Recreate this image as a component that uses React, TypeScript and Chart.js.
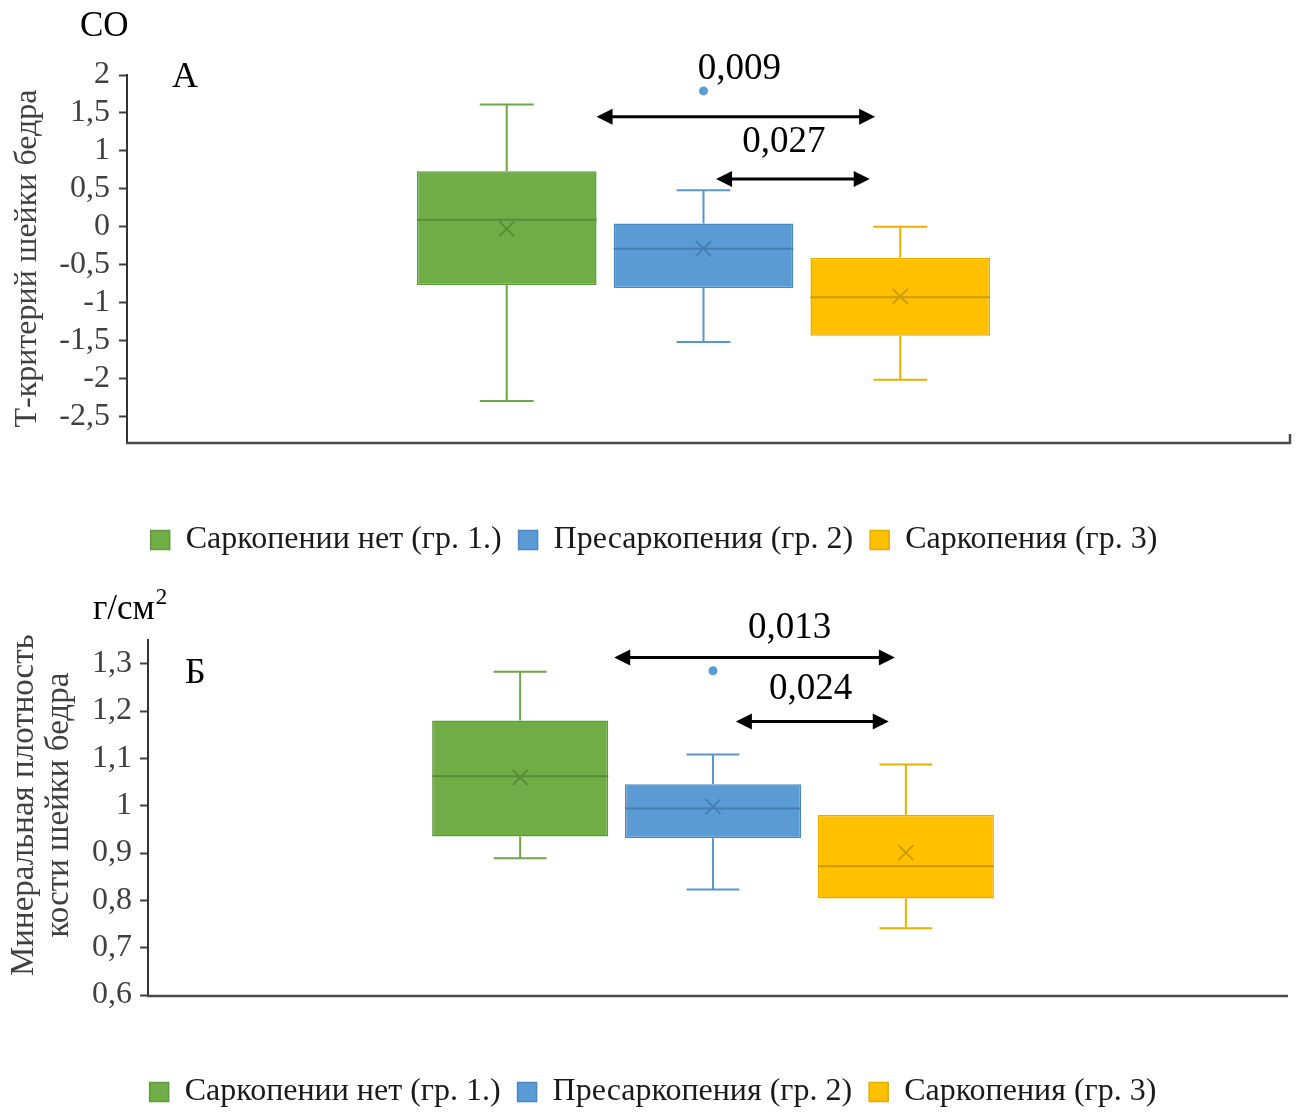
import React, { useEffect, useRef } from 'react';
import { Chart, registerables } from 'chart.js';

Chart.register(...registerables);

const FONT = "'Liberation Serif', 'Times New Roman', serif";

// Groups
const groups = ['Саркопении нет (гр. 1.)', 'Пресаркопения (гр. 2)', 'Саркопения (гр. 3)'];
const fillColors = ['#70AD47', '#5B9BD5', '#FFC000'];
const edgeColors = ['#5F9A3C', '#4B88C3', '#E3AA00'];
const whiskerColors = ['#6FA54A', '#5A96CF', '#E6B000'];
const centreColors = ['#578C39', '#467DB2', '#CC9B00'];

// Т-критерий шейки бедра
const tMin = [-2.3, -1.52, -2.02];
const tQ1 = [-0.77, -0.81, -1.44];
const tMedian = [0.09, -0.29, -0.93];
const tQ3 = [0.73, 0.04, -0.41];
const tMax = [1.61, 0.48, 0.0];
const tMean = [-0.03, -0.29, -0.92];
const tOutliers = [[], [1.79], []];
const tPValues = ['0,009', '0,027'];

// Минеральная плотность кости шейки бедра, г/см²
const bMin = [0.889, 0.823, 0.741];
const bQ1 = [0.935, 0.931, 0.804];
const bMedian = [1.062, 0.994, 0.872];
const bQ3 = [1.18, 1.045, 0.981];
const bMax = [1.283, 1.108, 1.087];
const bMean = [1.06, 0.998, 0.901];
const bOutliers = [[], [1.285], []];
const bPValues = ['0,013', '0,024'];

type Stats = {
  min: number[];
  q1: number[];
  median: number[];
  q3: number[];
  max: number[];
  mean: number[];
  outliers: number[][];
};

type Bracket = {
  from: number;
  fromShift: number;
  to: number;
  toShift: number;
  y: number;
  label: string;
  labelY: number;
  labelShift: number;
};

type PanelSpec = {
  stats: Stats;
  yMin: number;
  yMax: number;
  step: number;
  title: string | string[];
  titleFont: number;
  titleLineHeight: number;
  titlePad: number;
  axisWidth: number;
  tickPad: number;
  padTop: number;
  padRight: number;
  axisExtend: number;
  xAxisHeight: number;
  height: number;
  top: number;
  letter: string;
  letterDx: number;
  letterDy: number;
  unit: string;
  unitSup: string;
  unitDx: number;
  unitDy: number;
  endTick: boolean;
  legendShift: number;
  brackets: Bracket[];
};

const formatTick = (v: number) => String(Math.round(v * 100) / 100).replace('.', ',');

function drawArrow(ctx: CanvasRenderingContext2D, x1: number, x2: number, y: number) {
  const head = 16;
  const half = 8;
  ctx.save();
  ctx.strokeStyle = '#000';
  ctx.fillStyle = '#000';
  ctx.lineWidth = 3;
  ctx.beginPath();
  ctx.moveTo(x1 + head - 2, y);
  ctx.lineTo(x2 - head + 2, y);
  ctx.stroke();
  ctx.beginPath();
  ctx.moveTo(x1, y);
  ctx.lineTo(x1 + head, y - half);
  ctx.lineTo(x1 + head, y + half);
  ctx.closePath();
  ctx.fill();
  ctx.beginPath();
  ctx.moveTo(x2, y);
  ctx.lineTo(x2 - head, y - half);
  ctx.lineTo(x2 - head, y + half);
  ctx.closePath();
  ctx.fill();
  ctx.restore();
}

function makeBoxPlugin(spec: PanelSpec) {
  return {
    id: 'boxDecor',
    afterLayout(chart: any) {
      // nudge the legend row sideways
      if (chart.legend) {
        chart.legend.left += spec.legendShift;
        chart.legend.right += spec.legendShift;
      }
    },
    afterDatasetsDraw(chart: any) {
      const { ctx, chartArea } = chart;
      const ys = chart.scales.y;
      const s = spec.stats;
      const boxes: { x: number; w: number }[] = [];

      // horizontal axis line, running a little past the plot
      ctx.save();
      ctx.strokeStyle = '#4a4a4a';
      ctx.lineWidth = 2.5;
      const axisY = chartArea.bottom + 1;
      ctx.beginPath();
      ctx.moveTo(chartArea.left - 1, axisY);
      ctx.lineTo(chartArea.right + spec.axisExtend, axisY);
      if (spec.endTick) {
        ctx.lineTo(chartArea.right + spec.axisExtend, axisY - 9);
      }
      ctx.stroke();
      ctx.restore();

      groups.forEach((_, i) => {
        const bar: any = chart.getDatasetMeta(i).data[0];
        const x = bar.x;
        const w = bar.width;
        boxes.push({ x, w });
        const cap = w * 0.3;
        const yMin = ys.getPixelForValue(s.min[i]);
        const yMax = ys.getPixelForValue(s.max[i]);
        const yQ1 = ys.getPixelForValue(s.q1[i]);
        const yQ3 = ys.getPixelForValue(s.q3[i]);
        ctx.save();
        ctx.strokeStyle = whiskerColors[i];
        ctx.lineWidth = 2;
        ctx.beginPath();
        ctx.moveTo(x, yQ3);
        ctx.lineTo(x, yMax);
        ctx.moveTo(x - cap / 2, yMax);
        ctx.lineTo(x + cap / 2, yMax);
        ctx.moveTo(x, yQ1);
        ctx.lineTo(x, yMin);
        ctx.moveTo(x - cap / 2, yMin);
        ctx.lineTo(x + cap / 2, yMin);
        ctx.stroke();
        // median
        const yMed = ys.getPixelForValue(s.median[i]);
        ctx.strokeStyle = centreColors[i];
        ctx.beginPath();
        ctx.moveTo(x - w / 2, yMed);
        ctx.lineTo(x + w / 2, yMed);
        ctx.stroke();
        // mean marker
        const yMean = ys.getPixelForValue(s.mean[i]);
        const m = 7.5;
        ctx.lineWidth = 1.8;
        ctx.beginPath();
        ctx.moveTo(x - m, yMean - m);
        ctx.lineTo(x + m, yMean + m);
        ctx.moveTo(x - m, yMean + m);
        ctx.lineTo(x + m, yMean - m);
        ctx.stroke();
        // outliers
        ctx.fillStyle = fillColors[i];
        s.outliers[i].forEach((v) => {
          ctx.beginPath();
          ctx.arc(x, ys.getPixelForValue(v), 4.5, 0, Math.PI * 2);
          ctx.fill();
        });
        ctx.restore();
      });

      ctx.save();
      // significance brackets
      spec.brackets.forEach((b) => {
        const x1 = boxes[b.from].x + b.fromShift * boxes[b.from].w;
        const x2 = boxes[b.to].x + b.toShift * boxes[b.to].w;
        drawArrow(ctx, x1, x2, ys.getPixelForValue(b.y));
        ctx.fillStyle = '#000';
        ctx.font = `37px ${FONT}`;
        ctx.textAlign = 'center';
        ctx.textBaseline = 'middle';
        ctx.fillText(b.label, (x1 + x2) / 2 + b.labelShift * boxes[0].w, ys.getPixelForValue(b.labelY));
      });

      // panel letter and unit
      ctx.fillStyle = '#000';
      ctx.textAlign = 'left';
      ctx.textBaseline = 'middle';
      ctx.font = `36px ${FONT}`;
      ctx.fillText(spec.letter, chartArea.left + spec.letterDx, chartArea.top + spec.letterDy);
      ctx.font = `35px ${FONT}`;
      const ux = chartArea.left + spec.unitDx;
      const uy = chartArea.top + spec.unitDy;
      ctx.fillText(spec.unit, ux, uy);
      if (spec.unitSup) {
        const uw = ctx.measureText(spec.unit).width;
        ctx.font = `23px ${FONT}`;
        ctx.fillText(spec.unitSup, ux + uw + 1, uy - 12);
      }
      ctx.restore();
    },
  };
}

function BoxPanel({ spec }: { spec: PanelSpec }) {
  const ref = useRef<HTMLCanvasElement | null>(null);
  useEffect(() => {
    if (!ref.current) return;
    const s = spec.stats;
    const chart = new Chart(ref.current, {
      type: 'bar',
      data: {
        labels: [''],
        datasets: groups.map((g, i) => ({
          label: g,
          data: [[s.q1[i], s.q3[i]]] as any,
          backgroundColor: fillColors[i],
          borderColor: edgeColors[i],
          borderWidth: 1.5,
          borderSkipped: false,
          categoryPercentage: 0.512,
          barPercentage: 0.913,
        })),
      },
      options: {
        animation: false,
        responsive: false,
        layout: { padding: { top: spec.padTop, right: spec.padRight, left: 0, bottom: 0 } },
        plugins: {
          tooltip: { enabled: false },
          legend: {
            position: 'bottom',
            labels: {
              font: { family: FONT, size: 32 },
              color: '#1a1a1a',
              boxWidth: 19,
              boxHeight: 19,
              padding: 17,
            },
          },
        },
        scales: {
          x: {
            type: 'category',
            ticks: { display: false },
            grid: { display: false },
            border: { display: false },
            afterFit: (scale: any) => {
              scale.height = spec.xAxisHeight;
            },
          },
          y: {
            min: spec.yMin,
            max: spec.yMax,
            ticks: {
              stepSize: spec.step,
              autoSkip: false,
              font: { family: FONT, size: 32 },
              color: '#404040',
              padding: spec.tickPad,
              callback: (v: any) => formatTick(Number(v)),
            },
            grid: {
              display: true,
              drawOnChartArea: false,
              drawTicks: true,
              tickLength: 8,
              tickWidth: 2,
              tickColor: '#404040',
            },
            border: { display: true, color: '#333333', width: 2 },
            title: {
              display: true,
              text: spec.title,
              color: '#404040',
              font: { family: FONT, size: spec.titleFont, lineHeight: spec.titleLineHeight },
              padding: { top: spec.titlePad, bottom: 0 },
            },
            afterBuildTicks: (scale: any) => {
              const out: any[] = [];
              const n = Math.round((spec.yMax - spec.yMin) / spec.step) + 1;
              const first = Math.ceil(spec.yMin / spec.step - 1e-6);
              for (let k = 0; k < n + 1; k++) {
                const v = Math.round((first + k) * spec.step * 1000) / 1000;
                if (v >= spec.yMin - 1e-9 && v <= spec.yMax + 1e-9) out.push({ value: v });
              }
              scale.ticks = out;
            },
            afterFit: (scale: any) => {
              scale.width = spec.axisWidth;
            },
          },
        },
      },
      plugins: [makeBoxPlugin(spec)],
    } as any);
    return () => chart.destroy();
  }, [spec]);
  return (
    <div style={{ position: 'absolute', left: 0, top: spec.top, width: 1297, height: spec.height }}>
      <canvas ref={ref} width={1297} height={spec.height} style={{ display: 'block' }} />
    </div>
  );
}

const panelA: PanelSpec = {
  stats: { min: tMin, q1: tQ1, median: tMedian, q3: tQ3, max: tMax, mean: tMean, outliers: tOutliers },
  yMin: -2.84,
  yMax: 2,
  step: 0.5,
  title: 'Т-критерий шейки бедра',
  titleFont: 32,
  titleLineHeight: 1.2,
  titlePad: 8,
  axisWidth: 127,
  tickPad: 9,
  padTop: 75,
  padRight: 17,
  axisExtend: 10,
  xAxisHeight: 65,
  height: 566,
  top: 0,
  letter: 'А',
  letterDx: 45,
  letterDy: 3,
  unit: 'СО',
  unitSup: '',
  unitDx: -47,
  unitDy: -48,
  endTick: true,
  legendShift: 14,
  brackets: [
    { from: 0, fromShift: 0.5, to: 2, toShift: -0.14, y: 1.45, label: tPValues[0], labelY: 2.07, labelShift: 0.02 },
    { from: 1, fromShift: 0.07, to: 2, toShift: -0.17, y: 0.63, label: tPValues[1], labelY: 1.11, labelShift: -0.05 },
  ],
};

const panelB: PanelSpec = {
  stats: { min: bMin, q1: bQ1, median: bMedian, q3: bQ3, max: bMax, mean: bMean, outliers: bOutliers },
  yMin: 0.6,
  yMax: 1.35,
  step: 0.1,
  title: ['\u00a0\u00a0\u00a0Минеральная плотность', '\u00a0\u00a0\u00a0кости шейки бедра'],
  titleFont: 33,
  titleLineHeight: 1.06,
  titlePad: 7,
  axisWidth: 148,
  tickPad: 8,
  padTop: 75,
  padRight: 19,
  axisExtend: 10,
  xAxisHeight: 64,
  height: 553,
  top: 565,
  letter: 'Б',
  letterDx: 37,
  letterDy: 34,
  unit: 'г/см',
  unitSup: '2',
  unitDx: -55,
  unitDy: -30,
  endTick: false,
  legendShift: 14,
  brackets: [
    { from: 0, fromShift: 0.534, to: 2, toShift: -0.0625, y: 1.313, label: bPValues[0], labelY: 1.374, labelShift: 0.2 },
    { from: 1, fromShift: 0.13, to: 2, toShift: -0.097, y: 1.178, label: bPValues[1], labelY: 1.245, labelShift: -0.01 },
  ],
};

export default function App() {
  return (
    <div
      style={{
        position: 'absolute',
        left: 0,
        top: 0,
        width: 1297,
        height: 1113,
        overflow: 'hidden',
        background: '#fff',
      }}
    >
      <BoxPanel spec={panelA} />
      <BoxPanel spec={panelB} />
    </div>
  );
}
